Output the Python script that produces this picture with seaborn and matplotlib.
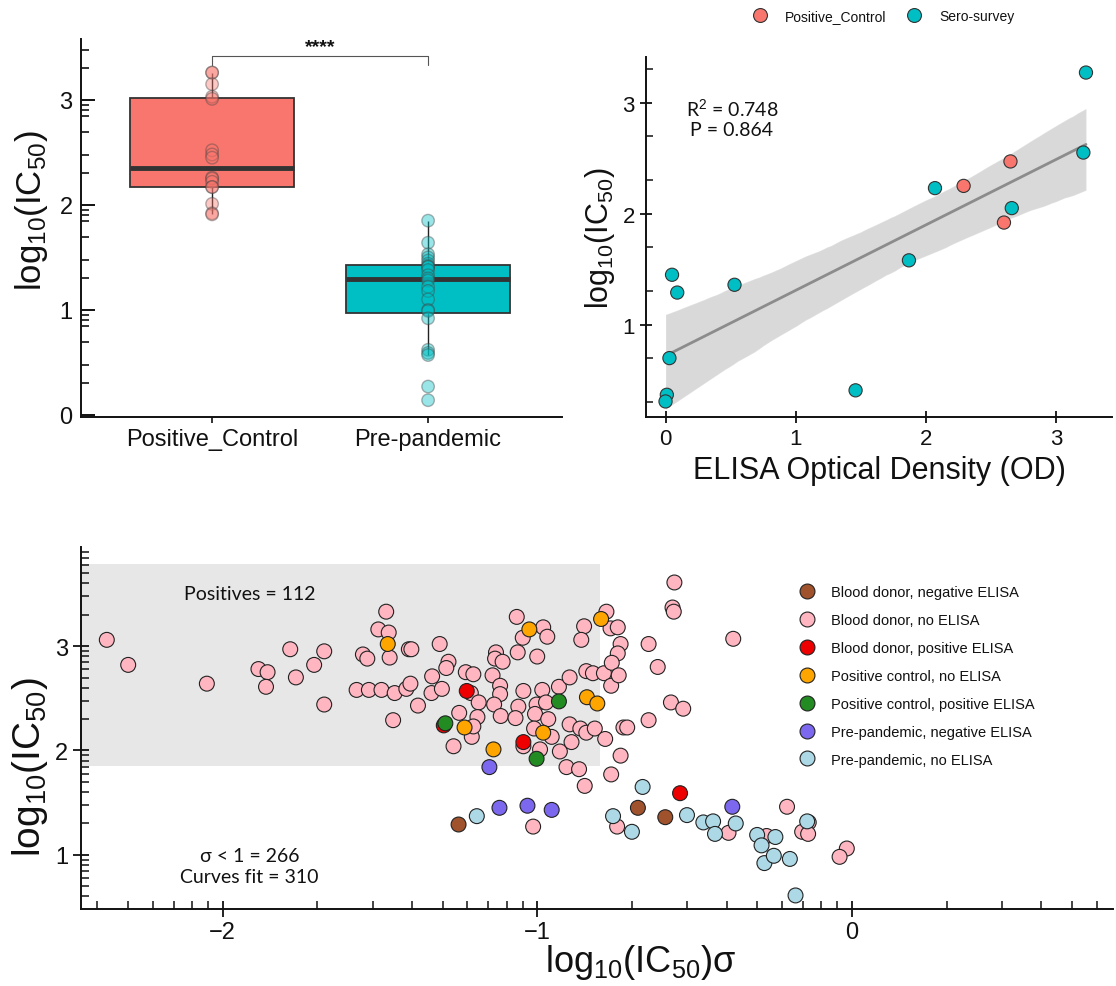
import numpy as np
import pandas as pd
import matplotlib
matplotlib.use("Agg")
import matplotlib.pyplot as plt
import seaborn as sns

# ------------------------------------------------------------------ data
box_groups = ["Positive_Control", "Pre-pandemic"]
box_colors = ["#F8766D", "#00BFC4"]
pc_ic50 = [3.26, 3.26, 3.15, 3.03, 3.01, 2.52, 2.48, 2.45, 2.26, 2.25,
           2.22, 2.17, 2.17, 2.01, 1.92, 1.91]
pp_ic50 = [1.85, 1.64, 1.53, 1.50, 1.47, 1.44, 1.42, 1.41, 1.41, 1.38,
           1.33, 1.30, 1.28, 1.22, 1.18, 1.10, 1.00, 0.99, 0.92, 0.62,
           0.59, 0.57, 0.27, 0.14]
signif_label = "****"

elisa_groups = ["Positive_Control", "Sero-survey"]
elisa_pc_od = [2.29, 2.65, 2.60]
elisa_pc_ic50 = [2.25, 2.47, 1.92]
elisa_sero_od = [3.23, 3.21, 2.07, 2.66, 1.87, 0.05, 0.09, 0.53, 0.03, 1.46, 0.01, 0.00]
elisa_sero_ic50 = [3.27, 2.55, 2.23, 2.05, 1.58, 1.45, 1.29, 1.36, 0.70, 0.41, 0.37, 0.31]
r2_label = "R$^2$ = 0.748"
p_label = "P = 0.864"

cat_names = ["Blood donor, negative ELISA", "Blood donor, no ELISA",
             "Blood donor, positive ELISA", "Positive control, no ELISA",
             "Positive control, positive ELISA", "Pre-pandemic, negative ELISA",
             "Pre-pandemic, no ELISA"]
cat_colors = ["#A0522D", "#FFB6C1", "#EE0000", "#FFA500", "#228B22",
              "#7B68EE", "#ADD8E6"]

bn_sig = [-1.25, -0.680, -0.593]
bn_ic = [1.29, 1.45, 1.36]

bp_sig = [-2.368, -2.30, -2.05, -1.886, -1.857, -1.862, -1.785, -1.767, -1.709, -1.677,
          -1.677, -1.574, -1.554, -1.540, -1.535, -1.505, -1.480, -1.472, -1.469, -1.495,
          -1.453, -1.458, -1.408, -1.400, -1.416, -1.403, -1.379, -1.334, -1.336, -1.303,
          -1.310, -1.282, -1.289, -1.248, -1.266, -1.227, -1.211, -1.208, -1.203, -1.186,
          -1.19, -1.065, -0.981, -0.968, -1.046, -1.062, -1.0, -1.131, -1.134, -1.110,
          -0.851, -0.860, -0.78, -0.767, -1.142, -1.118, -1.118, -1.044, -0.984, -0.931,
          -0.897, -0.844, -0.823, -0.788, -0.765, -1.137, -1.060, -1.002, -0.972, -1.116,
          -1.069, -1.007, -0.965, -1.203, -1.010, -0.954, -0.897, -0.863, -0.844, -0.817,
          -0.784, -1.044, -0.991, -0.928, -0.891, -0.907, -0.867, -0.849, -0.765,
          -0.564, -0.570, -0.566, -0.377, -0.646, -0.617, -0.575, -0.536, -0.646, -0.726,
          -0.714, -0.735, -0.744, -0.735, -0.744, -0.763, -0.741,
          -0.746, -1.013, -0.392, -0.271, -0.206, -0.137, -0.158, -0.139, -0.016, -0.039]
bp_ic = [3.06, 2.82, 2.64, 2.78, 2.75, 2.61, 2.97, 2.70, 2.82, 2.95,
         2.44, 2.58, 2.92, 2.88, 2.58, 3.16, 3.33, 3.13, 2.89, 2.58,
         2.55, 2.29, 2.97, 2.97, 2.59, 2.64, 2.43, 2.71, 2.55, 2.59,
         3.02, 2.85, 2.79, 2.36, 2.04, 2.75, 2.55, 2.13, 2.73, 2.46,
         2.32, 3.28, 3.18, 3.09, 3.08, 2.94, 2.90, 2.94, 2.88, 2.85,
         3.19, 3.06, 3.33, 3.17, 2.72, 2.62, 2.54, 2.57, 2.58, 2.61,
         2.70, 2.76, 2.74, 2.74, 2.62, 2.44, 2.42, 2.44, 2.46, 2.33,
         2.31, 2.35, 2.30, 2.23, 2.21, 2.13, 2.25, 2.21, 2.17, 2.21,
         2.11, 2.04, 2.01, 1.99, 2.08, 1.84, 1.82, 1.66, 1.77,
         3.61, 3.37, 3.33, 3.07, 3.02, 2.80, 2.46, 2.40, 2.29, 2.22,
         2.22, 1.95, 3.18, 3.02, 2.93, 2.84, 2.72,
         1.27, 1.27, 1.21, 1.18, 1.46, 1.31, 1.22, 1.20, 1.06, 0.98]

br_sig = [-1.297, -1.224, -1.044, -0.546]
br_ic = [2.24, 2.57, 2.08, 1.59]

po_sig = [-1.475, -1.231, -1.025, -0.797, -0.842, -0.809, -0.981, -1.139]
po_ic = [3.02, 2.22, 3.16, 3.26, 2.51, 2.45, 2.17, 2.01]

pg_sig = [-1.292, -0.931, -1.002]
pg_ic = [2.26, 2.47, 1.92]

pn_sig = [-1.152, -1.120, -1.031, -0.954, -0.380]
pn_ic = [1.84, 1.45, 1.47, 1.43, 1.46]

pl_sig = [-1.192, -0.665, -0.759, -0.699, -0.524, -0.472, -0.441, -0.435, -0.369,
          -0.301, -0.287, -0.243, -0.278, -0.248, -0.197, -0.142, -0.179]
pl_ic = [1.37, 1.65, 1.37, 1.22, 1.38, 1.31, 1.32, 1.20, 1.30,
         1.19, 1.09, 1.17, 0.92, 0.99, 0.96, 1.32, 0.61]

positive_region = {"sig_max": -0.80, "ic_min": 1.85, "ic_max": 3.79}
label_positives = "Positives = 112"
label_sigma = "σ < 1 = 266\nCurves fit = 310"

# ------------------------------------------------------------------ style
sns.set_theme(style="ticks")
plt.rcParams["font.family"] = ["Liberation Sans", "DejaVu Sans"]
plt.rcParams["mathtext.fontset"] = "custom"
plt.rcParams["mathtext.rm"] = "Liberation Sans"
plt.rcParams["mathtext.it"] = "Liberation Sans:italic"
plt.rcParams["mathtext.bf"] = "Liberation Sans:bold"
plt.rcParams["axes.linewidth"] = 1.4
plt.rcParams["text.color"] = "#111111"
plt.rcParams["axes.labelcolor"] = "#111111"
plt.rcParams["xtick.color"] = "#111111"
plt.rcParams["ytick.color"] = "#111111"
plt.rcParams["axes.edgecolor"] = "#111111"
annot_font = ["Lato", "DejaVu Sans"]
ylab = r"$\mathrm{log_{10}(IC_{50})}$"

W, H = 1116, 987
fig = plt.figure(figsize=(W / 100, H / 100), dpi=100)


def fax(l, t, r, b):
    return fig.add_axes([l / W, 1 - b / H, (r - l) / W, (b - t) / H])


def log_minor(lo, hi, ks=range(2, 10)):
    out = []
    for n in range(int(np.floor(lo)) - 1, int(np.ceil(hi)) + 1):
        for k in ks:
            v = n + np.log10(k)
            if lo < v < hi:
                out.append(v)
    return out


# ------------------------------------------------------------------ top-left box
ax1 = fax(81, 40, 562, 418)
box_df = pd.DataFrame({
    "group": [box_groups[0]] * len(pc_ic50) + [box_groups[1]] * len(pp_ic50),
    "ic50": pc_ic50 + pp_ic50,
})
pal_box = dict(zip(box_groups, box_colors))
sns.boxplot(data=box_df, x="group", y="ic50", hue="group", palette=pal_box,
            order=box_groups, width=0.76, showfliers=False, showcaps=False,
            linecolor="#333333", linewidth=1.3, saturation=1,
            medianprops=dict(color="#333333", linewidth=3.5),
            whiskerprops=dict(color="#222222", linewidth=1.0),
            legend=False, ax=ax1)
sns.stripplot(data=box_df, x="group", y="ic50", hue="group", palette=pal_box,
              order=box_groups, jitter=False, size=9, alpha=0.4,
              linewidth=1.0, edgecolor="#444444", legend=False, ax=ax1)
ax1.set_xlim(-0.607, 1.62)
ax1.set_ylim(-0.02, 3.58)
ax1.set_yticks([0, 1, 2, 3])
ax1.set_yticks(log_minor(-0.02, 3.58, ks=[2, 3, 5, 7, 8, 9]), minor=True)
ax1.tick_params(axis="y", which="major", direction="in", length=10, width=1.4,
                labelsize=17, pad=6)
ax1.tick_params(axis="y", which="minor", direction="in", length=6, width=1.2)
ax1.tick_params(axis="x", direction="out", length=4, width=1.2, labelsize=17, pad=4)
ax1.set_xlabel("")
ax1.set_ylabel(ylab, fontsize=25)
ax1.yaxis.set_label_coords(-0.064, 0.548)
sns.despine(ax=ax1)
# significance bracket
y_br, y_tip = 3.42, 3.33
ax1.plot([0, 0, 1, 1], [y_tip, y_br, y_br, y_tip], color="#555555", lw=0.8)
ax1.text(0.5, y_br + 0.005, signif_label, ha="center", va="bottom", fontsize=14,
         fontweight="bold")

# ------------------------------------------------------------------ top-right scatter
ax2 = fax(646, 58, 1112, 418)
elisa_df = pd.DataFrame({
    "group": [elisa_groups[0]] * len(elisa_pc_od) + [elisa_groups[1]] * len(elisa_sero_od),
    "od": elisa_pc_od + elisa_sero_od,
    "ic50": elisa_pc_ic50 + elisa_sero_ic50,
})
sns.regplot(data=elisa_df, x="od", y="ic50", scatter=False, color="black",
            line_kws=dict(alpha=0), ci=95, ax=ax2)
sns.regplot(data=elisa_df, x="od", y="ic50", scatter=False, color="#8c8c8c",
            line_kws=dict(lw=2), ci=None, ax=ax2)
sns.scatterplot(data=elisa_df, x="od", y="ic50", hue="group",
                palette=dict(zip(elisa_groups, box_colors)), s=90,
                edgecolor="#333333", linewidth=0.8, legend=False, ax=ax2, zorder=3)
ax2.set_xlim(-0.15, 3.43)
ax2.set_ylim(0.17, 3.41)
ax2.set_xticks([0, 1, 2, 3])
ax2.set_yticks([1, 2, 3])
ax2.set_yticks(log_minor(0.17, 3.41, ks=[2, 5]), minor=True)
ax2.tick_params(axis="both", which="major", direction="inout", length=9, width=1.3,
                labelsize=16)
ax2.tick_params(axis="y", which="minor", direction="in", length=5, width=1.1)
ax2.set_xlabel("ELISA Optical Density (OD)", fontsize=22, labelpad=4)
ax2.set_ylabel(ylab, fontsize=22, labelpad=4)
ax2.text(0.51, 2.87, r2_label + "\n" + p_label, ha="center", va="center",
         fontsize=14, family=annot_font, linespacing=1.15)
sns.despine(ax=ax2)
leg_handles = [plt.Line2D([], [], marker="o", ls="", markersize=10,
                          markerfacecolor=c, markeredgecolor="#333333",
                          markeredgewidth=0.8) for c in box_colors]
fig.legend(leg_handles, elisa_groups, loc="center", bbox_to_anchor=(880 / W, 1 - 17 / H),
           ncol=2, frameon=False, fontsize=10, handletextpad=0.8, columnspacing=1.0)

# ------------------------------------------------------------------ bottom scatter
ax3 = fax(81, 548, 1113, 910)
sig_lists = [bn_sig, bp_sig, br_sig, po_sig, pg_sig, pn_sig, pl_sig]
ic_lists = [bn_ic, bp_ic, br_ic, po_ic, pg_ic, pn_ic, pl_ic]
rows = []
for name, xs, ys in zip(cat_names, sig_lists, ic_lists):
    for xv, yv in zip(xs, ys):
        rows.append((name, xv, yv))
sig_df = pd.DataFrame(rows, columns=["category", "sigma", "ic50"])

xlo, xhi = -2.45, 0.83
ax3.fill_between([xlo, positive_region["sig_max"]], positive_region["ic_min"],
                 positive_region["ic_max"], color="#E7E7E7", lw=0, zorder=0)
sns.scatterplot(data=sig_df, x="sigma", y="ic50", hue="category", hue_order=cat_names,
                palette=dict(zip(cat_names, cat_colors)), s=115,
                edgecolor="#222222", linewidth=0.8, ax=ax3, zorder=3)
ax3.set_xlim(xlo, xhi)
ax3.set_ylim(0.48, 3.95)
ax3.set_xticks([-2, -1, 0])
ax3.set_yticks([1, 2, 3])
ax3.set_xticks(log_minor(xlo, xhi), minor=True)
ax3.set_yticks(log_minor(0.48, 3.95), minor=True)
ax3.tick_params(axis="both", which="major", direction="inout", length=11, width=1.3,
                labelsize=17)
ax3.tick_params(axis="both", which="minor", direction="in", length=6, width=1.1)
ax3.set_xlabel(r"$\mathrm{log_{10}(IC_{50})}$σ", fontsize=26)
ax3.xaxis.set_label_coords(0.542, -0.092)
ax3.set_ylabel(ylab, fontsize=28)
ax3.yaxis.set_label_coords(-0.03, 0.395)
ax3.text(-1.915, 3.50, label_positives, ha="center", va="center", fontsize=14,
         family=annot_font)
ax3.text(-1.915, 0.895, label_sigma, ha="center", va="center", fontsize=14,
         family=annot_font, linespacing=1.3)
sns.despine(ax=ax3)
leg = ax3.legend(loc="upper left", bbox_to_anchor=(0.677, 0.93), frameon=False,
                 fontsize=10.5, handletextpad=0.6, labelspacing=0.95, markerscale=1.0,
                 title=None)

fig.savefig("out.png", dpi=100)
